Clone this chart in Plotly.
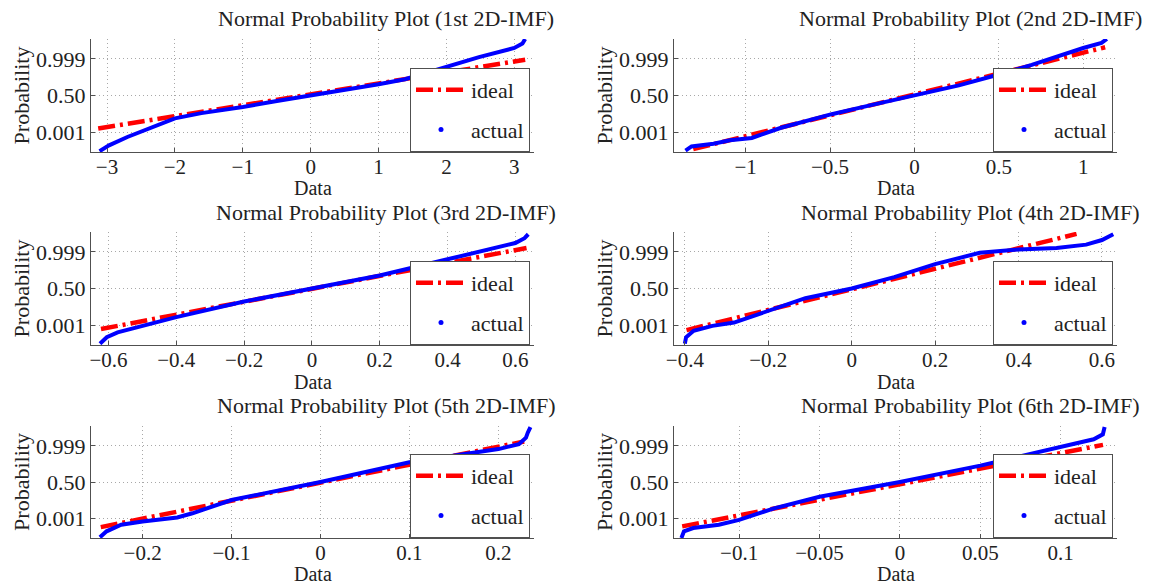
import plotly.graph_objects as go
from statistics import NormalDist

# ---------------- data ----------------
titles = [
    "Normal Probability Plot (1st 2D-IMF)",
    "Normal Probability Plot (2nd 2D-IMF)",
    "Normal Probability Plot (3rd 2D-IMF)",
    "Normal Probability Plot (4th 2D-IMF)",
    "Normal Probability Plot (5th 2D-IMF)",
    "Normal Probability Plot (6th 2D-IMF)",
]
prob_ticks = [0.001, 0.50, 0.999]
prob_labels = ["0.001", "0.50", "0.999"]

# actual (sorted data vs. normal quantile z)
act1_x = [-3.11, -2.97, -2.70, -2.43, -2.00, -1.61, -1.00, -0.52, 0.00, 0.56, 1.00, 1.39, 2.00, 2.48, 3.00, 3.12, 3.16]
act1_z = [-4.71, -4.22, -3.51, -2.93, -1.93, -1.49, -0.98, -0.49, 0.00, 0.46, 0.95, 1.38, 2.39, 3.25, 4.02, 4.40, 4.78]
act2_x = [-1.356, -1.32, -1.287, -1.19, -1.093, -0.963, -0.79, -0.49, -0.27, 0.00, 0.263, 0.50, 0.695, 1.00, 1.065, 1.108, 1.14]
act2_z = [-4.66, -4.31, -4.25, -4.08, -3.79, -3.59, -2.73, -1.58, -0.86, 0.00, 0.86, 1.78, 2.59, 4.02, 4.31, 4.45, 4.78]
act3_x = [-0.625, -0.605, -0.573, -0.518, -0.40, -0.20, 0.00, 0.20, 0.40, 0.501, 0.60, 0.627, 0.638]
act3_z = [-4.67, -4.12, -3.71, -3.30, -2.42, -1.10, 0.00, 1.10, 2.47, 3.16, 3.85, 4.26, 4.59]
act4_x = [-0.40, -0.397, -0.379, -0.334, -0.282, -0.20, -0.111, 0.00, 0.102, 0.20, 0.289, 0.307, 0.40, 0.491, 0.562, 0.60, 0.627]
act4_z = [-4.67, -4.12, -3.57, -3.16, -2.88, -1.92, -0.82, 0.00, 0.96, 2.06, 2.88, 3.02, 3.30, 3.43, 3.71, 4.10, 4.59]
act5_x = [-0.248, -0.2405, -0.224, -0.20, -0.161, -0.144, -0.10, 0.00, 0.10, 0.161, 0.20, 0.223, 0.231, 0.233, 0.236]
act5_z = [-4.72, -4.21, -3.65, -3.37, -3.03, -2.67, -1.54, 0.00, 1.69, 2.39, 2.81, 3.23, 3.79, 4.21, 4.69]
act6_x = [-0.1359, -0.1343, -0.1286, -0.1126, -0.10, -0.0783, -0.05, 0.00, 0.05, 0.0815, 0.10, 0.1205, 0.1262, 0.1273]
act6_z = [-4.78, -4.21, -3.93, -3.65, -3.23, -2.25, -1.26, 0.00, 1.40, 2.39, 2.95, 3.65, 4.07, 4.69]

# ideal (fitted normal line) end points
ideal1_x = [-3.13, 3.16];   ideal1_z = [-2.79, 3.02]
ideal2_x = [-1.31, 1.13];   ideal2_z = [-4.54, 4.08]
ideal3_x = [-0.622, 0.633]; ideal3_z = [-3.43, 3.43]
ideal4_x = [-0.396, 0.539]; ideal4_z = [-3.52, 4.62]
ideal5_x = [-0.247, 0.229]; ideal5_z = [-3.85, 3.46]
ideal6_x = [-0.1354, 0.1263]; ideal6_z = [-3.79, 3.17]

# x ticks
xticks1 = [-3, -2, -1, 0, 1, 2, 3]
xticks2 = [-1, -0.5, 0, 0.5, 1]
xticks3 = [-0.6, -0.4, -0.2, 0, 0.2, 0.4, 0.6]
xticks4 = [-0.4, -0.2, 0, 0.2, 0.4, 0.6]
xticks5 = [-0.2, -0.1, 0, 0.1, 0.2]
xticks6 = [-0.1, -0.05, 0, 0.05, 0.1]
xlabels1 = ["\u22123", "\u22122", "\u22121", "0", "1", "2", "3"]
xlabels2 = ["\u22121", "\u22120.5", "0", "0.5", "1"]
xlabels3 = ["\u22120.6", "\u22120.4", "\u22120.2", "0", "0.2", "0.4", "0.6"]
xlabels4 = ["\u22120.4", "\u22120.2", "0", "0.2", "0.4", "0.6"]
xlabels5 = ["\u22120.2", "\u22120.1", "0", "0.1", "0.2"]
xlabels6 = ["\u22120.1", "\u22120.05", "0", "0.05", "0.1"]

# axis ranges
xranges = [[-3.236, 3.29], [-1.424, 1.20], [-0.6515, 0.655],
           [-0.426, 0.636], [-0.258, 0.240], [-0.1405, 0.1350]]
zrange = [-4.78, 4.78]

# ---------------- layout helpers ----------------
W, H = 1149, 584
FONT = "Liberation Serif, Times New Roman, serif"
TXT = "#222222"
AX = "#505050"
GRID = "#a8a8a8"
FS = 22
FT = 21  # tick labels
FD = 20  # "Data" labels

col_px = [(91, 534), (674, 1117)]
row_px = [(39, 152), (232, 345), (426, 538)]
title_cx = [386, 970]
title_cy = [18, 212, 405]
xlabel_cy = [188, 382, 574]

panels = [
    (act1_x, act1_z, ideal1_x, ideal1_z, xticks1, xlabels1),
    (act2_x, act2_z, ideal2_x, ideal2_z, xticks2, xlabels2),
    (act3_x, act3_z, ideal3_x, ideal3_z, xticks3, xlabels3),
    (act4_x, act4_z, ideal4_x, ideal4_z, xticks4, xlabels4),
    (act5_x, act5_z, ideal5_x, ideal5_z, xticks5, xlabels5),
    (act6_x, act6_z, ideal6_x, ideal6_z, xticks6, xlabels6),
]

nd = NormalDist()
ztick = [nd.inv_cdf(p) for p in prob_ticks]

fig = go.Figure()
layout = dict(width=W, height=H, margin=dict(l=0, r=0, t=0, b=0),
              paper_bgcolor="white", plot_bgcolor="white",
              font=dict(family=FONT, size=FS, color=TXT), showlegend=True)
annotations = []

for i, (ax_, az_, ix_, iz_, xt, xl) in enumerate(panels):
    r, c = i // 2, i % 2
    n = "" if i == 0 else str(i + 1)
    lg = "legend" if i == 0 else f"legend{i + 1}"
    x0, x1 = col_px[c]
    y0, y1 = row_px[r]

    fig.add_trace(go.Scatter(
        x=ix_, y=iz_, mode="lines", name="ideal", legend=lg, legendgroup=f"ideal{i}",
        line=dict(color="#ff0000", width=4.5, dash="17px,5px,3px,5px"),
        xaxis="x" + n, yaxis="y" + n, hoverinfo="skip"))
    fig.add_trace(go.Scatter(
        x=ax_, y=az_, mode="lines", name="actual", legend=lg, legendgroup=f"act{i}",
        showlegend=False,
        line=dict(color="#0000ff", width=4),
        xaxis="x" + n, yaxis="y" + n))
    fig.add_trace(go.Scatter(
        x=[None], y=[None], mode="markers", name="actual", legend=lg, legendgroup=f"act{i}",
        marker=dict(color="#0000ff", size=5),
        xaxis="x" + n, yaxis="y" + n))

    layout["xaxis" + n] = dict(
        domain=[x0 / W, x1 / W], range=xranges[i], anchor="y" + n, automargin=False,
        tickmode="array", tickvals=xt, ticktext=xl,
        ticklabelposition="outside", ticklabelstandoff=-4,
        showgrid=True, gridcolor=GRID, griddash="1px,3px", gridwidth=1,
        showline=True, linecolor=AX, linewidth=1, zeroline=False,
        ticks="inside", ticklen=4, tickcolor=AX,
        tickfont=dict(size=FT, family=FONT, color=TXT))
    layout["yaxis" + n] = dict(
        domain=[1 - y1 / H, 1 - y0 / H], range=zrange, anchor="x" + n, automargin=False,
        tickmode="array", tickvals=ztick, ticktext=prob_labels,
        showgrid=True, gridcolor=GRID, griddash="1px,3px", gridwidth=1,
        showline=True, linecolor=AX, linewidth=1, zeroline=False,
        ticks="inside", ticklen=4, tickcolor=AX,
        tickfont=dict(size=FS, family=FONT, color=TXT),
        title=dict(text="Probability", font=dict(size=FS, family=FONT, color=TXT), standoff=0))
    layout[lg] = dict(
        x=(x1 - 4) / W, y=1 - y1 / H, xanchor="right", yanchor="bottom",
        bgcolor="white", bordercolor=AX, borderwidth=1,
        font=dict(size=FS, family=FONT, color=TXT),
        tracegroupgap=8, itemwidth=50)
    annotations.append(dict(
        text=titles[i], x=title_cx[c] / W, y=1 - title_cy[r] / H,
        xref="paper", yref="paper", xanchor="center", yanchor="middle",
        showarrow=False, font=dict(size=FS, family=FONT, color=TXT)))
    annotations.append(dict(
        text="Data", x=(x0 + x1) / 2 / W, y=1 - xlabel_cy[r] / H,
        xref="paper", yref="paper", xanchor="center", yanchor="middle",
        showarrow=False, font=dict(size=FD, family=FONT, color=TXT)))

layout["annotations"] = annotations
fig.update_layout(**layout)
fig.write_html("out.html", config={"displayModeBar": False},
               post_script="document.body.style.margin='0';document.body.style.overflow='hidden';")
